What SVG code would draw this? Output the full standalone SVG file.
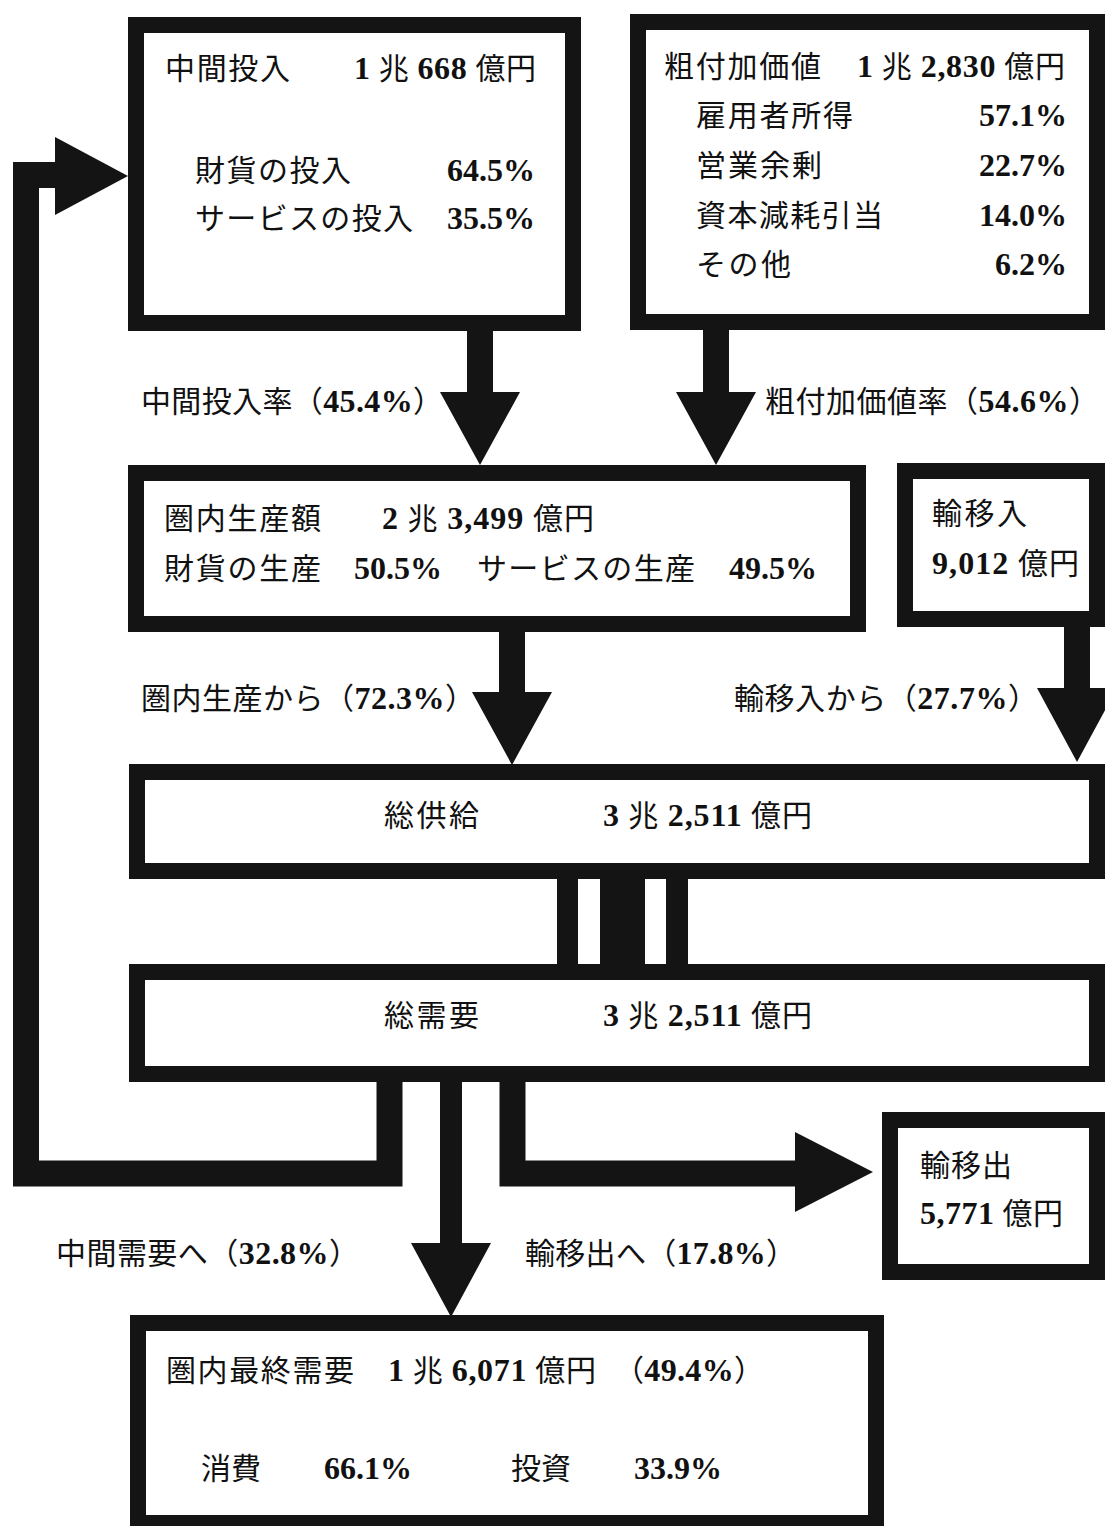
<svg xmlns="http://www.w3.org/2000/svg" width="1105" height="1526" viewBox="0 0 1105 1526">
<style>
.bx{fill:#fff;stroke:#141414;stroke-width:16}
.ar{fill:#141414}
.ln{fill:none;stroke:#141414;stroke-width:26;stroke-linejoin:miter;stroke-linecap:butt}
text{font-family:"Liberation Serif","Noto Sans CJK JP",serif;font-size:30px;fill:#111}
.b{font-weight:bold;font-size:32px}
.e{text-anchor:end}
</style>
<rect width="1105" height="1526" fill="#fff"/>
<g id="connectors">
  <polygon class="ar" points="467,328 493,328 493,392 520,392 480,465 440,392 467,392"/>
  <polygon class="ar" points="703,326 729,326 729,392 756,392 716,465 676,392 703,392"/>
  <polygon class="ar" points="499,630 525,630 525,692 552,692 512,765 472,692 499,692"/>
  <polygon class="ar" points="1064,625 1090,625 1090,688 1117,688 1077,762 1037,688 1064,688"/>
  <rect class="ar" x="557" y="876" width="21" height="92"/>
  <rect class="ar" x="600" y="876" width="45" height="92"/>
  <rect class="ar" x="666" y="876" width="22" height="92"/>
  <path class="ln" d="M389.5 1078 V1173.5 H26 V175 H60"/>
  <polygon class="ar" points="55,137 128,176 55,215"/>
  <polygon class="ar" points="440,1078 462,1078 462,1243 491,1243 451,1317 411,1243 440,1243"/>
  <path class="ln" d="M512.5 1078 V1173.5 H797"/>
  <polygon class="ar" points="795,1132 873,1172 795,1212"/>
</g>
<g id="node-intermediate-input">
  <rect class="bx" x="136" y="25" width="437" height="298"/>
  <text x="165" y="79" textLength="125">中間投入</text>
  <text x="354" y="79" textLength="182"><tspan class="b">1</tspan> 兆 <tspan class="b">668</tspan> 億円</text>
  <text x="195" y="181" textLength="156">財貨の投入</text>
  <text class="b e" x="535" y="181">64.5%</text>
  <text x="195" y="229" textLength="218">サービスの投入</text>
  <text class="b e" x="535" y="229">35.5%</text>
</g>
<g id="node-gross-value-added">
  <rect class="bx" x="638" y="22" width="459" height="300"/>
  <text x="664" y="77" textLength="157">粗付加価値</text>
  <text x="857" y="77" textLength="208"><tspan class="b">1</tspan> 兆 <tspan class="b">2,830</tspan> 億円</text>
  <text x="696" y="126" textLength="157">雇用者所得</text>
  <text class="b e" x="1067" y="126">57.1%</text>
  <text x="696" y="176" textLength="126">営業余剰</text>
  <text class="b e" x="1067" y="176">22.7%</text>
  <text x="696" y="226" textLength="187">資本減耗引当</text>
  <text class="b e" x="1067" y="226">14.0%</text>
  <text x="696" y="275" textLength="95">その他</text>
  <text class="b e" x="1067" y="275">6.2%</text>
</g>
<g id="node-regional-production">
  <rect class="bx" x="136" y="473" width="722" height="151"/>
  <text x="164" y="529" textLength="157">圏内生産額</text>
  <text x="382" y="529" textLength="212"><tspan class="b">2</tspan> 兆 <tspan class="b">3,499</tspan> 億円</text>
  <text x="164" y="579" textLength="157">財貨の生産</text>
  <text class="b" x="354" y="579">50.5%</text>
  <text x="477" y="579" textLength="218">サービスの生産</text>
  <text class="b" x="729" y="579">49.5%</text>
</g>
<g id="node-imports">
  <rect class="bx" x="905" y="471" width="192" height="148"/>
  <text x="932" y="524" textLength="95">輸移入</text>
  <text x="932" y="574" textLength="147"><tspan class="b">9,012</tspan> 億円</text>
</g>
<g id="node-total-supply">
  <rect class="bx" x="137" y="772" width="960" height="99"/>
  <text x="384" y="826" textLength="95">総供給</text>
  <text x="603" y="826" textLength="209"><tspan class="b">3</tspan> 兆 <tspan class="b">2,511</tspan> 億円</text>
</g>
<g id="node-total-demand">
  <rect class="bx" x="137" y="972" width="960" height="102"/>
  <text x="384" y="1026" textLength="95">総需要</text>
  <text x="603" y="1026" textLength="209"><tspan class="b">3</tspan> 兆 <tspan class="b">2,511</tspan> 億円</text>
</g>
<g id="node-exports">
  <rect class="bx" x="890" y="1120" width="207" height="152"/>
  <text x="920" y="1176" textLength="92">輸移出</text>
  <text x="920" y="1224" textLength="143"><tspan class="b">5,771</tspan> 億円</text>
</g>
<g id="node-final-demand">
  <rect class="bx" x="138" y="1323" width="738" height="200"/>
  <text x="166" y="1381" textLength="188">圏内最終需要</text>
  <text x="388" y="1381" textLength="208"><tspan class="b">1</tspan> 兆 <tspan class="b">6,071</tspan> 億円</text>
  <text x="614" y="1381" textLength="150">（<tspan class="b">49.4%</tspan>）</text>
  <text x="201" y="1479" textLength="60">消費</text>
  <text class="b" x="324" y="1479">66.1%</text>
  <text x="511" y="1479" textLength="60">投資</text>
  <text class="b" x="634" y="1479">33.9%</text>
</g>
<g id="labels">
  <text x="141" y="412" textLength="302">中間投入率（<tspan class="b">45.4%</tspan>）</text>
  <text x="765" y="412" textLength="334">粗付加価値率（<tspan class="b">54.6%</tspan>）</text>
  <text x="141" y="709" textLength="334">圏内生産から（<tspan class="b">72.3%</tspan>）</text>
  <text x="734" y="709" textLength="304">輸移入から（<tspan class="b">27.7%</tspan>）</text>
  <text x="56" y="1264" textLength="303">中間需要へ（<tspan class="b">32.8%</tspan>）</text>
  <text x="525" y="1264" textLength="271">輸移出へ（<tspan class="b">17.8%</tspan>）</text>
</g>
</svg>
